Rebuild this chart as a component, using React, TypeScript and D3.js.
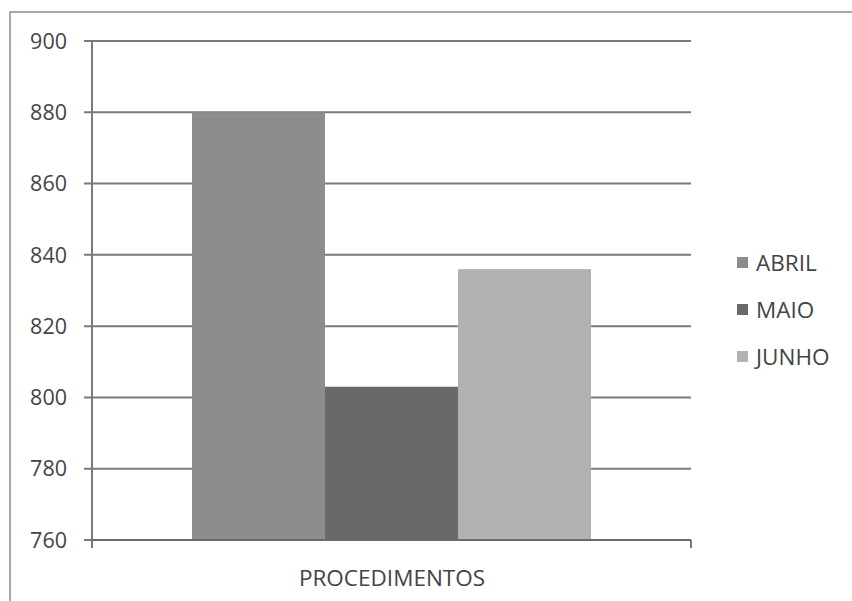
import * as d3 from "d3";
import React from "react";

const months = ["ABRIL", "MAIO", "JUNHO"]
const values = [880, 803, 836]
const colors = ["#8d8d8d", "#696969", "#b2b2b2"]
const category = "PROCEDIMENTOS"
const yTicks = [760, 780, 800, 820, 840, 860, 880, 900]

const width = 852
const height = 601
const plot = { left: 92, right: 691, top: 41, bottom: 540 }
const font = "'Open Sans', 'Liberation Sans', sans-serif"

export function App() {
  const y = d3.scaleLinear().domain([760, 900]).range([plot.bottom, plot.top])
  const x = d3.scaleBand<string>().domain(months).range([192, 591]).padding(0)

  return (
    <svg width={width} height={height} style={{ position: "absolute", left: 0, top: 0, background: "#fff", display: "block" }}>
      <rect x={10} y={12} width={width} height={height} fill="none" stroke="#8a8a8a" strokeWidth={1.5} />

      {yTicks.map(t => (
        <g key={t}>
          <line x1={plot.left - 8} x2={plot.right} y1={y(t)} y2={y(t)} stroke="#7a7a7a" strokeWidth={2} />
          <text x={67} y={y(t)} dy="0.36em" textAnchor="end" fontFamily={font} fontSize={21.5} fill="#444">{t}</text>
        </g>
      ))}

      {months.map((m, i) => (
        <rect key={m} x={x(m)} y={y(values[i])} width={x.bandwidth()} height={plot.bottom - y(values[i])} fill={colors[i]} />
      ))}

      <line x1={plot.left} x2={plot.left} y1={plot.top} y2={plot.bottom + 8} stroke="#7a7a7a" strokeWidth={2} />
      <line x1={plot.right} x2={plot.right} y1={plot.bottom} y2={plot.bottom + 8} stroke="#7a7a7a" strokeWidth={2} />
      <line x1={plot.left} x2={plot.right} y1={plot.bottom} y2={plot.bottom} stroke="#6a6a6a" strokeWidth={2} />

      <text x={392} y={578} dy="0.36em" textAnchor="middle" fontFamily={font} fontSize={22.5} fill="#444">{category}</text>

      {months.map((m, i) => (
        <g key={m} transform={`translate(737, ${263 + i * 47})`}>
          <rect x={0} y={-6} width={11} height={11} fill={colors[i]} />
          <text x={19} y={0} dy="0.36em" fontFamily={font} fontSize={22.5} fill="#444">{m}</text>
        </g>
      ))}
    </svg>
  );
}

export default App;
